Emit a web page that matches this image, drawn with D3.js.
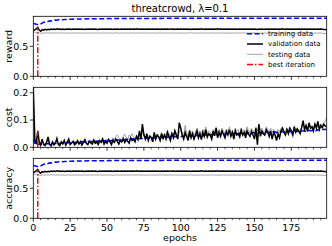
<!DOCTYPE html>
<html>
<head>
<meta charset="utf-8">
<script src="https://cdn.jsdelivr.net/npm/d3@7"></script>
<style>
  html, body { margin: 0; padding: 0; background: #fff; }
  svg { display: block; font-family: "DejaVu Sans", sans-serif; }
</style>
</head>
<body>
<div id="vis"></div>
<script>
(function () {
  'use strict';

  var WIDTH = 332;
  var HEIGHT = 246;
  var BEST = 3;
  var X_TICKS = [0, 25, 50, 75, 100, 125, 150, 175];

  // reward per epoch (accuracy curves are the same numbers)
  var rewTrain = [
    .880,.875,.868,.862,.860,.872,.885,.900,.905,.915,
    .912,.925,.920,.932,.930,.938,.936,.942,.940,.945,
    .944,.948,.946,.950,.949,.952,.951,.953,.952,.955,
    .954,.956,.955,.957,.956,.958,.957,.958,.958,.959,
    .959,.960,.959,.960,.961,.960,.961,.961,.960,.962,
    .961,.962,.962,.961,.963,.962,.962,.963,.962,.963,
    .963,.962,.963,.964,.963,.963,.964,.963,.964,.964,
    .963,.964,.964,.965,.964,.964,.965,.964,.965,.965,
    .964,.965,.965,.966,.965,.965,.966,.965,.966,.966,
    .965,.966,.966,.966,.967,.966,.966,.967,.966,.967,
    .967,.966,.967,.967,.966,.967,.967,.968,.967,.966,
    .967,.967,.968,.967,.966,.967,.968,.967,.967,.968,
    .967,.968,.967,.967,.968,.967,.966,.967,.968,.967,
    .968,.967,.967,.968,.967,.968,.967,.967,.968,.967,
    .967,.968,.968,.967,.968,.967,.968,.968,.967,.968,
    .968,.967,.968,.968,.967,.968,.968,.967,.968,.968,
    .967,.968,.968,.969,.968,.967,.968,.968,.969,.968,
    .968,.969,.968,.968,.967,.968,.969,.968,.968,.969,
    .968,.968,.969,.968,.969,.968,.968,.969,.968,.969,
    .969,.968,.969,.968,.969,.969,.968,.969,.969,.968
  ];
  var rewVal = [
    .760,.775,.790,.815,.770,.752,.778,.768,.782,.774,
    .784,.778,.788,.780,.786,.779,.790,.783,.787,.781,
    .788,.782,.786,.790,.784,.788,.781,.787,.785,.789,
    .783,.788,.784,.790,.786,.782,.788,.785,.789,.783,
    .787,.784,.789,.785,.782,.788,.786,.790,.784,.787,
    .783,.789,.785,.787,.782,.788,.784,.790,.786,.783,
    .788,.785,.789,.783,.787,.785,.790,.784,.788,.786,
    .792,.785,.788,.783,.789,.786,.784,.790,.785,.787,
    .783,.788,.786,.790,.784,.787,.782,.788,.785,.789,
    .784,.787,.785,.790,.783,.788,.786,.784,.789,.785,
    .787,.783,.788,.785,.790,.784,.787,.782,.788,.786,
    .789,.784,.787,.785,.791,.786,.783,.788,.785,.789,
    .784,.787,.783,.789,.786,.792,.785,.788,.784,.787,
    .786,.789,.783,.788,.785,.787,.784,.790,.786,.783,
    .788,.785,.789,.784,.787,.783,.788,.786,.790,.784,
    .787,.785,.781,.788,.784,.789,.786,.783,.788,.785,
    .789,.784,.787,.785,.790,.786,.783,.788,.785,.791,
    .786,.784,.789,.785,.787,.783,.788,.786,.789,.784,
    .787,.785,.790,.784,.788,.786,.789,.783,.787,.785,
    .788,.786,.784,.789,.785,.787,.786,.780,.778,.776
  ];
  var rewTest = [
    .740,.735,.730,.738,.722,.715,.724,.718,.726,.720,
    .724,.719,.727,.721,.725,.718,.723,.720,.726,.719,
    .724,.721,.717,.723,.720,.725,.718,.722,.720,.724,
    .719,.723,.721,.717,.722,.720,.725,.719,.723,.721,
    .718,.724,.720,.722,.719,.725,.721,.718,.723,.720,
    .722,.719,.724,.720,.717,.723,.721,.725,.719,.722,
    .720,.724,.718,.722,.721,.719,.724,.720,.723,.718,
    .722,.720,.725,.719,.721,.723,.718,.722,.720,.724,
    .719,.723,.721,.717,.722,.720,.724,.719,.723,.721,
    .718,.722,.720,.725,.719,.721,.723,.718,.722,.720,
    .724,.719,.722,.720,.718,.723,.721,.725,.719,.722,
    .720,.723,.718,.722,.721,.719,.724,.720,.722,.718,
    .723,.720,.725,.719,.721,.722,.718,.723,.720,.724,
    .719,.722,.721,.717,.723,.720,.724,.719,.722,.721,
    .718,.723,.720,.725,.719,.722,.720,.718,.723,.721,
    .724,.719,.722,.720,.717,.723,.721,.724,.719,.722,
    .720,.723,.718,.722,.721,.719,.724,.720,.722,.718,
    .723,.720,.724,.719,.721,.722,.718,.723,.720,.724,
    .719,.722,.721,.718,.723,.720,.724,.719,.722,.720,
    .718,.723,.721,.719,.722,.720,.718,.716,.715,.714
  ];

  // cost per epoch
  var costTrain = [
    .030,.015,.010,.012,.010,.012,.011,.013,.012,.014,
    .013,.012,.014,.013,.015,.014,.016,.015,.014,.016,
    .015,.017,.016,.018,.017,.016,.018,.019,.017,.019,
    .018,.020,.019,.021,.020,.019,.021,.022,.020,.022,
    .021,.023,.022,.021,.023,.024,.022,.024,.023,.025,
    .024,.026,.025,.024,.026,.027,.025,.028,.027,.026,
    .028,.029,.027,.030,.029,.028,.030,.031,.029,.031,
    .030,.032,.031,.033,.032,.030,.033,.034,.032,.034,
    .033,.035,.034,.036,.035,.033,.036,.037,.035,.037,
    .036,.038,.037,.039,.038,.036,.039,.040,.038,.040,
    .039,.041,.040,.042,.041,.039,.042,.043,.041,.043,
    .042,.044,.043,.045,.044,.042,.045,.046,.044,.046,
    .045,.047,.046,.048,.047,.045,.048,.049,.047,.049,
    .048,.050,.049,.051,.050,.048,.051,.052,.050,.052,
    .050,.052,.051,.053,.052,.050,.053,.054,.052,.054,
    .052,.054,.053,.055,.054,.052,.055,.056,.054,.056,
    .054,.056,.055,.057,.056,.054,.057,.058,.056,.058,
    .056,.058,.057,.059,.058,.056,.059,.060,.058,.060,
    .058,.060,.059,.061,.060,.058,.061,.062,.060,.062,
    .060,.062,.061,.064,.063,.061,.064,.066,.065,.067
  ];
  var costVal = [
    .220,.030,.012,.060,.020,.008,.030,.010,.006,.018,
    .038,.012,.005,.020,.009,.015,.032,.010,.006,.020,
    .012,.025,.008,.018,.030,.010,.016,.022,.009,.014,
    .024,.012,.020,.008,.018,.028,.014,.010,.022,.016,
    .012,.026,.015,.020,.010,.024,.018,.030,.012,.022,
    .015,.028,.020,.010,.025,.018,.030,.022,.012,.026,
    .020,.032,.018,.028,.022,.015,.035,.025,.030,.020,
    .040,.028,.060,.030,.085,.045,.030,.050,.025,.040,
    .035,.020,.055,.030,.045,.038,.025,.050,.032,.045,
    .030,.055,.040,.025,.050,.035,.060,.045,.030,.090,
    .070,.045,.030,.055,.040,.025,.060,.035,.050,.030,
    .045,.060,.035,.050,.028,.055,.040,.065,.038,.050,
    .045,.030,.060,.042,.070,.035,.055,.040,.060,.048,
    .035,.058,.045,.065,.040,.055,.030,.060,.045,.050,
    .038,.062,.045,.055,.035,.060,.048,.040,.058,.045,
    .030,.070,.010,.085,.040,.060,.050,.045,.065,.055,
    .040,.060,.030,.055,.045,.025,.050,.035,.060,.070,
    .055,.045,.065,.050,.070,.060,.045,.075,.055,.068,
    .060,.050,.072,.098,.065,.080,.058,.090,.070,.075,
    .060,.085,.070,.095,.065,.080,.072,.085,.078,.075
  ];
  var costTest = [
    .200,.025,.010,.045,.015,.010,.025,.012,.008,.020,
    .030,.010,.008,.018,.012,.020,.025,.010,.008,.018,
    .015,.022,.010,.020,.025,.012,.018,.020,.010,.015,
    .020,.015,.025,.012,.020,.030,.015,.012,.025,.018,
    .015,.030,.020,.025,.015,.028,.022,.035,.018,.028,
    .020,.032,.025,.018,.035,.028,.040,.045,.035,.030,
    .028,.040,.048,.035,.030,.045,.040,.050,.038,.032,
    .045,.035,.055,.040,.060,.050,.035,.045,.030,.045,
    .040,.030,.050,.038,.048,.042,.035,.055,.040,.050,
    .045,.060,.050,.040,.055,.045,.065,.050,.042,.055,
    .060,.050,.045,.080,.055,.040,.065,.050,.060,.045,
    .055,.070,.050,.060,.045,.065,.055,.075,.050,.060,
    .055,.045,.065,.060,.075,.050,.065,.055,.070,.060,
    .050,.065,.060,.075,.055,.060,.045,.070,.060,.065,
    .050,.070,.060,.065,.055,.075,.060,.055,.070,.060,
    .055,.075,.060,.080,.065,.070,.060,.055,.075,.065,
    .060,.070,.055,.065,.060,.050,.065,.055,.070,.075,
    .060,.055,.070,.060,.075,.065,.055,.080,.060,.070,
    .065,.060,.075,.085,.065,.080,.070,.085,.075,.080,
    .070,.085,.075,.090,.075,.085,.080,.090,.095,.110
  ];
  var accTrain = rewTrain;
  var accVal = rewVal;
  var accTest = rewTest;

  var LEFT = 33.3;
  var RIGHT = 326.7;
  var PANEL_H = 60;
  var TRAIN_DASH = '5,2.5';
  var BEST_DASH = '6,2,1.5,2';
  var panels = [
    { top: 16.3, label: 'reward', ymax: 1, ticks: [0, 0.5],
      train: rewTrain, val: rewVal, test: rewTest, legend: true },
    { top: 87.3, label: 'cost', ymax: 0.22, ticks: [0, 0.1, 0.2],
      train: costTrain, val: costVal, test: costTest },
    { top: 158.3, label: 'accuracy', ymax: 1, ticks: [0, 0.5],
      train: accTrain, val: accVal, test: accTest, xlabels: true }
  ];

  var svg = d3.select('#vis').append('svg')
    .attr('width', WIDTH)
    .attr('height', HEIGHT);

  svg.append('text')
    .attr('x', (LEFT + RIGHT) / 2)
    .attr('y', 12)
    .attr('text-anchor', 'middle')
    .style('font-size', '10px')
    .text('threatcrowd, \u03bb=0.1');

  var x = d3.scaleLinear().domain([0, 199]).range([LEFT, RIGHT]);
  var epochs = d3.range(200);

  panels.forEach(function (p) {
    var y = d3.scaleLinear().domain([0, p.ymax]).range([p.top + PANEL_H, p.top]);
    var g = svg.append('g');
    var line = function (arr) {
      return d3.line().x(function (d, i) { return x(i); }).y(function (d) { return y(d); })(arr);
    };

    var clipId = 'clip-' + p.label;
    svg.append('clipPath').attr('id', clipId).append('rect')
      .attr('x', LEFT).attr('y', p.top).attr('width', RIGHT - LEFT).attr('height', PANEL_H);
    var plot = g.append('g').attr('clip-path', 'url(#' + clipId + ')');

    plot.append('path').attr('d', line(p.test))
      .attr('fill', 'none').attr('stroke', '#8c8c8c').attr('stroke-width', 0.8);
    plot.append('path').attr('d', line(p.train))
      .attr('fill', 'none').attr('stroke', '#0000ff').attr('stroke-width', 1.5)
      .attr('stroke-dasharray', TRAIN_DASH);
    plot.append('path').attr('d', line(p.val))
      .attr('fill', 'none').attr('stroke', '#000').attr('stroke-width', 1.5);
    plot.append('line')
      .attr('x1', x(BEST)).attr('x2', x(BEST))
      .attr('y1', y(0)).attr('y2', y(p.val[BEST]))
      .attr('stroke', '#ff0000').attr('stroke-width', 1.5)
      .attr('stroke-dasharray', BEST_DASH);

    // frame
    g.append('rect')
      .attr('x', LEFT).attr('y', p.top).attr('width', RIGHT - LEFT).attr('height', PANEL_H)
      .attr('fill', 'none').attr('stroke', '#000').attr('stroke-width', 0.8);

    // x ticks, minor every 5
    var xAxis = g.append('g').attr('transform', 'translate(0,' + (p.top + PANEL_H) + ')');
    xAxis.selectAll('line.minor').data(epochs.filter(function (e) { return e % 5 === 0 && e % 25 !== 0; }))
      .enter().append('line')
      .attr('x1', function (d) { return x(d); }).attr('x2', function (d) { return x(d); })
      .attr('y1', 0).attr('y2', 2)
      .attr('stroke', '#000').attr('stroke-width', 0.6);
    xAxis.selectAll('line.major').data(X_TICKS)
      .enter().append('line')
      .attr('x1', function (d) { return x(d); }).attr('x2', function (d) { return x(d); })
      .attr('y1', 0).attr('y2', 3.5)
      .attr('stroke', '#000').attr('stroke-width', 0.8);
    if (p.xlabels) {
      xAxis.selectAll('text').data(X_TICKS)
        .enter().append('text')
        .attr('x', function (d) { return x(d); })
        .attr('y', 13)
        .attr('text-anchor', 'middle')
        .style('font-size', '9.5px')
        .text(function (d) { return d; });
      svg.append('text')
        .attr('x', (LEFT + RIGHT) / 2)
        .attr('y', 241)
        .attr('text-anchor', 'middle')
        .style('font-size', '9.5px')
        .text('epochs');
    }

    // y ticks
    var yAxis = g.append('g');
    yAxis.selectAll('line').data(p.ticks).enter().append('line')
      .attr('x1', LEFT - 3.5).attr('x2', LEFT)
      .attr('y1', function (d) { return y(d); }).attr('y2', function (d) { return y(d); })
      .attr('stroke', '#000').attr('stroke-width', 0.8);
    yAxis.selectAll('text').data(p.ticks).enter().append('text')
      .attr('x', LEFT - 5)
      .attr('y', function (d) { return y(d); })
      .attr('dy', '0.35em')
      .attr('text-anchor', 'end')
      .style('font-size', '9.5px')
      .text(function (d) { return d3.format('.1f')(d); });

    svg.append('text')
      .attr('transform', 'translate(12,' + (p.top + PANEL_H / 2) + ') rotate(-90)')
      .attr('text-anchor', 'middle')
      .style('font-size', '9.5px')
      .text(p.label);

    if (p.legend) {
      var items = [
        { name: 'training data', color: '#0000ff', w: 1.5, dash: TRAIN_DASH },
        { name: 'validation data', color: '#000', w: 1.5, dash: null },
        { name: 'testing data', color: '#8c8c8c', w: 0.8, dash: null },
        { name: 'best iteration', color: '#ff0000', w: 1.5, dash: BEST_DASH }
      ];
      var lg = g.append('g');
      items.forEach(function (it, i) {
        var ly = 33.7 + i * 10.3;
        lg.append('line')
          .attr('x1', 247).attr('x2', 263)
          .attr('y1', ly).attr('y2', ly)
          .attr('stroke', it.color).attr('stroke-width', it.w)
          .attr('stroke-dasharray', it.dash);
        lg.append('text')
          .attr('x', 268).attr('y', ly)
          .attr('dy', '0.35em')
          .style('font-size', '7px')
          .text(it.name);
      });
    }
  });
})();
</script>
</body>
</html>
